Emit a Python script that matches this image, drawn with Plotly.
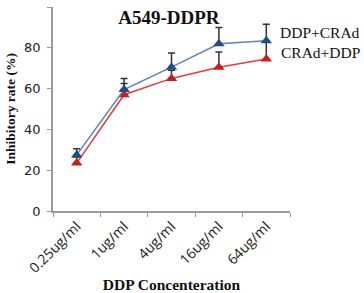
import plotly.graph_objects as go

categories = ["0.25ug/ml", "1ug/ml", "4ug/ml", "16ug/ml", "64ug/ml"]
series_names = ["DDP+CRAd", "CRAd+DDP"]
blue_values = [27.5, 59.5, 70.5, 82.0, 83.5]
blue_errors = [3.0, 5.5, 7.0, 8.0, 8.0]
red_values = [23.5, 57.0, 65.0, 70.5, 74.5]
red_errors = [3.0, 5.5, 4.0, 7.5, 8.5]
y_ticks = [0, 20, 40, 60, 80, 100]

fig = go.Figure()
fig.add_trace(go.Scatter(
    x=categories, y=red_values, name=series_names[1], mode="lines+markers",
    line=dict(color="#E8383A", width=1.5),
    marker=dict(symbol="triangle-up", size=10, color="#C81E1E"),
    error_y=dict(type="data", array=red_errors, arrayminus=[0]*5, symmetric=False,
                 color="#333333", thickness=1.5, width=3.5),
))
fig.add_trace(go.Scatter(
    x=categories, y=blue_values, name=series_names[0], mode="lines+markers",
    line=dict(color="#5B85B5", width=1.5),
    marker=dict(symbol="triangle-up", size=10, color="#1F4E86"),
    error_y=dict(type="data", array=blue_errors, arrayminus=[0]*5, symmetric=False,
                 color="#333333", thickness=1.5, width=3.5),
))

fig.add_annotation(text=series_names[0], xref="paper", yref="paper", x=1.304, y=0.877,
                   xanchor="right", yanchor="middle", showarrow=False,
                   font=dict(family="Liberation Serif", size=15.5, color="#111111"))
fig.add_annotation(text=series_names[1], xref="paper", yref="paper", x=1.304, y=0.779,
                   xanchor="right", yanchor="middle", showarrow=False,
                   font=dict(family="Liberation Serif", size=15.5, color="#111111"))

fig.update_layout(
    width=364, height=293,
    margin=dict(l=53, r=74, t=7, b=82, autoexpand=False),
    paper_bgcolor="white", plot_bgcolor="white",
    showlegend=False,
    title=dict(text="<b>A549-DDPR</b>", xref="container", x=0.464, xanchor="center",
               y=0.942, yanchor="middle",
               font=dict(family="Liberation Serif", size=19, color="#111111")),
    xaxis=dict(
        type="category", showline=True, linecolor="#9A9A9A", linewidth=1.5,
        ticks="outside", ticklen=4, tickcolor="#9A9A9A", tickson="boundaries",
        tickangle=-45, showgrid=False, range=[-0.5, 4.5], automargin=False,
        tickfont=dict(family="Open Sans", size=14, color="#222222"),
        title=dict(text="<b>DDP Concenteration</b>", standoff=11,
                   font=dict(family="Liberation Serif", size=15.5, color="#111111")),
    ),
    yaxis=dict(
        range=[0, 100], tickvals=y_ticks, showline=True, linecolor="#9A9A9A", linewidth=1.5,
        ticks="outside", ticklen=4, tickcolor="#9A9A9A", showgrid=False, zeroline=False,
        automargin=False, ticklabelstandoff=4,
        tickfont=dict(family="DejaVu Sans", size=13, color="#222222"),
        title=dict(text="<b>Inhibitory rate (%)</b>", standoff=5,
                   font=dict(family="Liberation Serif", size=13.5, color="#111111")),
    ),
)

fig.write_html("out.html", config={"displayModeBar": False},
               post_script="document.body.style.margin='0';document.body.style.overflow='hidden';")
